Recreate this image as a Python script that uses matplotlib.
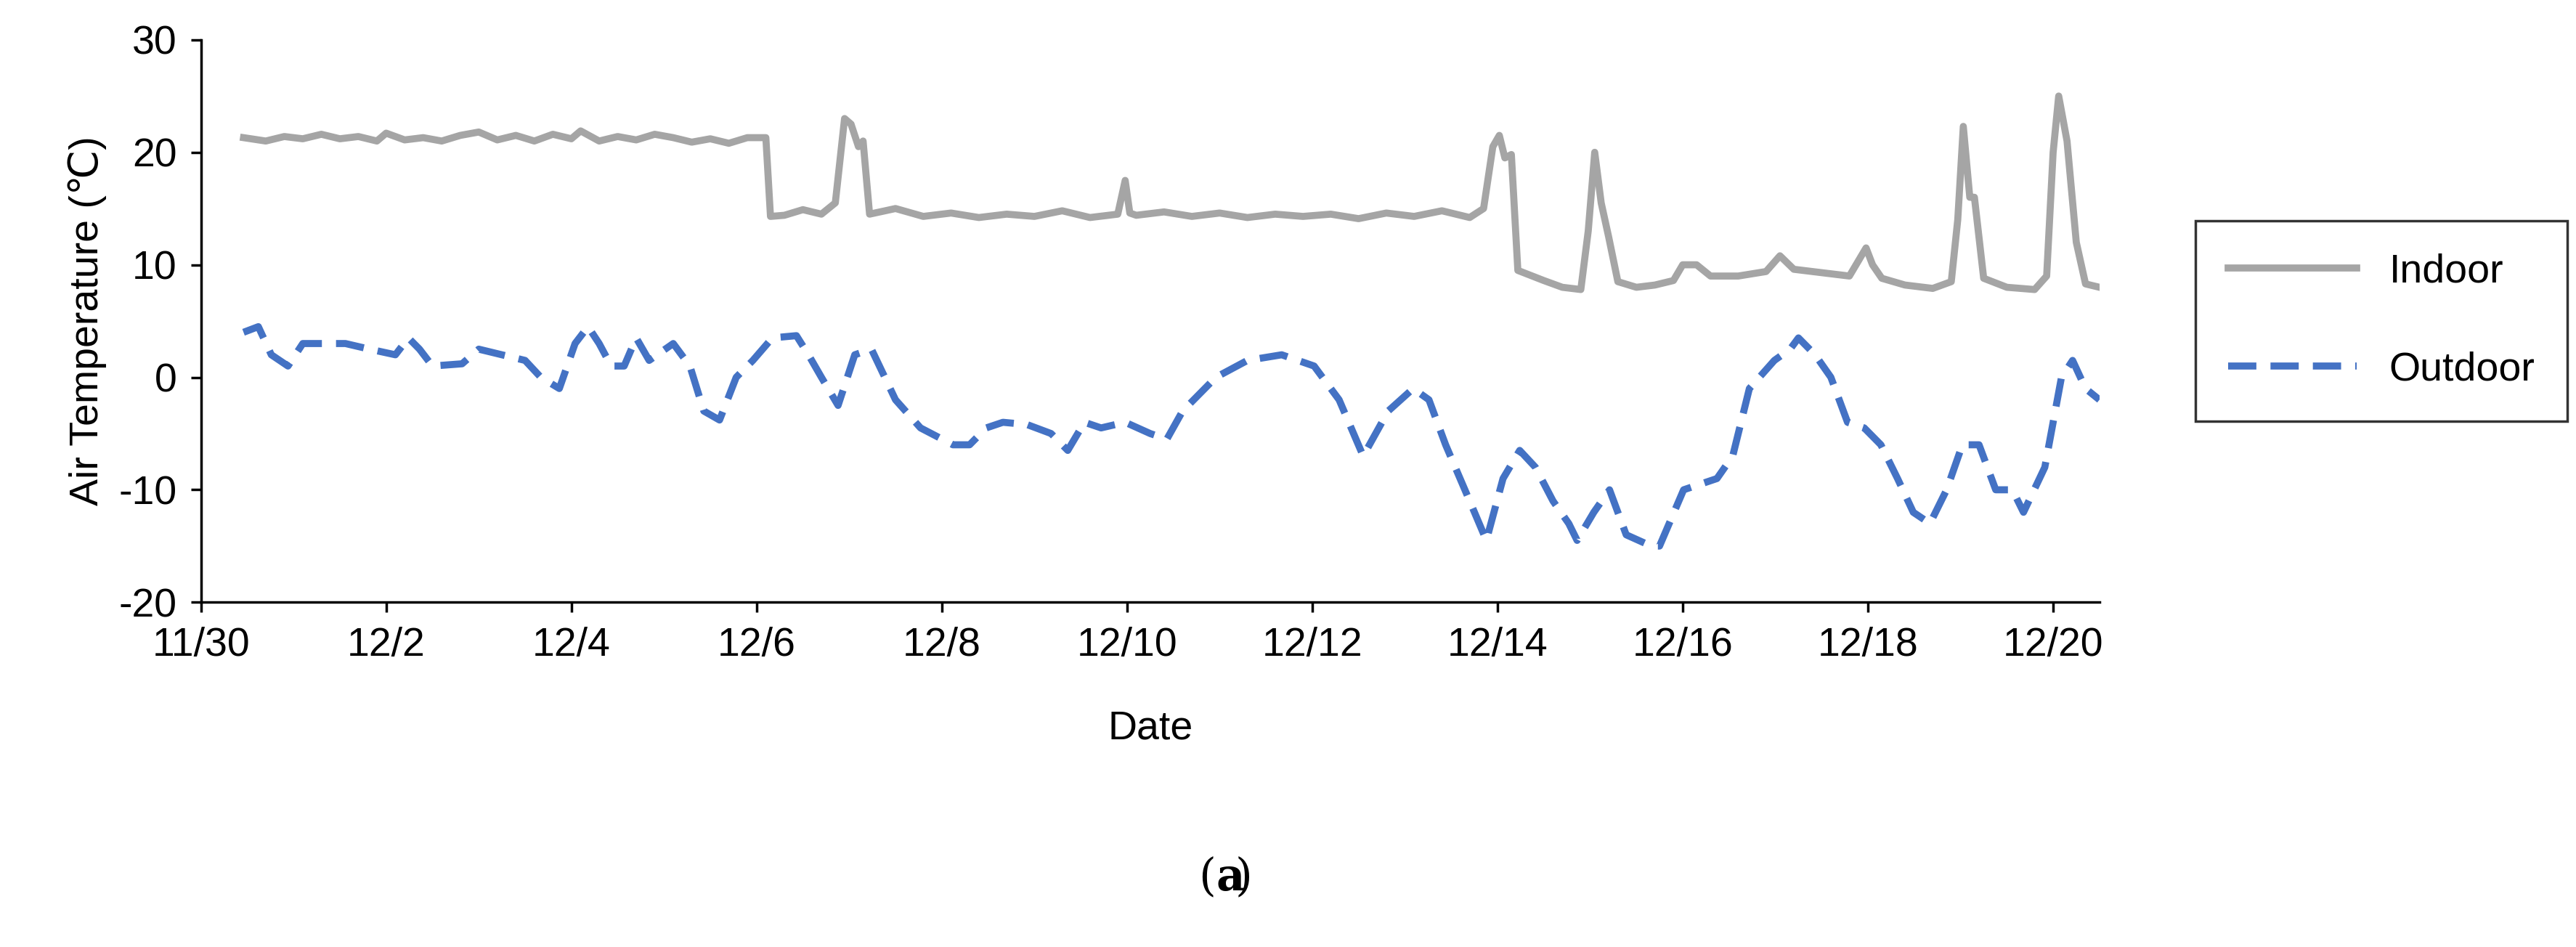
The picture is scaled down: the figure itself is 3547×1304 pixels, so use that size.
import numpy as np
import matplotlib.pyplot as plt

# days since 11/30
indoor_day = [0.46, 0.7, 0.9, 1.1, 1.3, 1.5, 1.7, 1.9, 2.0, 2.2, 2.4, 2.6, 2.8, 3.0, 3.2, 3.4, 3.6, 3.8, 4.0, 4.1, 4.3,
              4.5, 4.7, 4.9, 5.1, 5.3, 5.5, 5.7, 5.9, 6.1, 6.15, 6.3, 6.5, 6.7, 6.85, 6.95, 7.02, 7.1, 7.15, 7.22,
              7.5, 7.8, 8.1, 8.4, 8.7, 9.0, 9.3, 9.6, 9.9, 9.98, 10.03, 10.1, 10.4, 10.7, 11.0, 11.3, 11.6, 11.9,
              12.2, 12.5, 12.8, 13.1, 13.4, 13.7, 13.85, 13.95, 14.02, 14.08, 14.15, 14.22, 14.5, 14.7, 14.9,
              14.98, 15.05, 15.12, 15.2, 15.3, 15.5, 15.7, 15.9, 16.0, 16.15, 16.3, 16.6, 16.9, 17.05, 17.2,
              17.5, 17.8, 17.98, 18.05, 18.15, 18.4, 18.7, 18.9, 18.97, 19.03, 19.1, 19.15, 19.25, 19.5, 19.8,
              19.93, 20.0, 20.06, 20.15, 20.25, 20.35, 20.5]
indoor_temp = [21.3, 21.0, 21.4, 21.2, 21.6, 21.2, 21.4, 21.0, 21.7, 21.1, 21.3, 21.0, 21.5, 21.8, 21.1, 21.5, 21.0, 21.6,
               21.2, 21.9, 21.0, 21.4, 21.1, 21.6, 21.3, 20.9, 21.2, 20.8, 21.3, 21.3, 14.3, 14.4, 14.9, 14.5, 15.5,
               23.0, 22.5, 20.5, 21.0, 14.5, 15.0, 14.3, 14.6, 14.2, 14.5, 14.3, 14.8, 14.2, 14.5, 17.5, 14.6, 14.4,
               14.7, 14.3, 14.6, 14.2, 14.5, 14.3, 14.5, 14.1, 14.6, 14.3, 14.8, 14.2, 15.0, 20.5, 21.5, 19.5, 19.8,
               9.5, 8.6, 8.0, 7.8, 13.0, 20.0, 15.5, 12.5, 8.5, 8.0, 8.2, 8.6, 10.0, 10.0, 9.0, 9.0, 9.4, 10.8, 9.6,
               9.3, 9.0, 11.5, 10.0, 8.8, 8.2, 7.9, 8.5, 14.0, 22.3, 16.0, 16.0, 8.8, 8.0, 7.8, 9.0, 20.0, 25.0,
               21.0, 12.0, 8.3, 8.0]

outdoor_day = [0.46, 0.62, 0.76, 0.94, 1.1, 1.56, 1.82, 2.1, 2.24, 2.36, 2.5, 2.82, 3.0, 3.25, 3.5, 3.67, 3.87,
               4.04, 4.18, 4.3, 4.43, 4.57, 4.7, 4.84, 5.1, 5.28, 5.43, 5.6, 5.78, 5.96, 6.17, 6.43, 6.56, 6.7,
               6.88, 7.06, 7.24, 7.5, 7.77, 8.12, 8.3, 8.48, 8.66, 8.92, 9.18, 9.36, 9.54, 9.72, 9.98, 10.25, 10.43,
               10.6, 10.96, 11.3, 11.67, 12.02, 12.29, 12.55, 12.82, 13.09, 13.26, 13.44, 13.7, 13.88, 14.06, 14.24,
               14.41, 14.6, 14.77, 14.86, 15.04, 15.21, 15.39, 15.66, 15.75, 16.01, 16.19, 16.37, 16.54, 16.72,
               16.99, 17.16, 17.25, 17.43, 17.6, 17.78, 17.96, 18.14, 18.32, 18.49, 18.67, 18.85, 19.02, 19.2,
               19.38, 19.56, 19.68, 19.91, 20.09, 20.21, 20.35, 20.5]
outdoor_temp = [4.0, 4.5, 2.0, 1.0, 3.0, 3.0, 2.5, 2.0, 3.5, 2.5, 1.0, 1.2, 2.5, 2.0, 1.5, 0.0, -1.0, 3.0, 4.5, 3.0,
                1.0, 1.0, 3.5, 1.5, 3.0, 1.0, -3.0, -3.8, 0.0, 1.5, 3.5, 3.7, 2.0, 0.0, -2.5, 2.0, 2.5, -2.0, -4.5,
                -6.0, -6.0, -4.5, -4.0, -4.2, -5.0, -6.5, -4.0, -4.5, -4.0, -5.0, -5.5, -3.0, 0.0, 1.5, 2.0, 1.0,
                -2.0, -7.0, -3.0, -1.0, -2.0, -6.0, -11.0, -14.5, -9.0, -6.5, -8.0, -11.0, -13.0, -14.5, -12.0,
                -10.0, -14.0, -15.0, -15.0, -10.0, -9.5, -9.0, -7.0, -1.0, 1.5, 2.5, 3.5, 2.0, 0.0, -4.0, -4.5,
                -6.0, -9.0, -12.0, -13.0, -10.0, -6.0, -6.0, -10.0, -10.0, -12.0, -8.0, 0.0, 1.5, -1.0, -2.0]

tick_days = list(range(0, 21, 2))
tick_labels = ['11/30'] + ['12/%d' % d for d in range(2, 21, 2)]

plt.rcParams['font.family'] = ['Liberation Sans', 'DejaVu Sans']
plt.rcParams['axes.unicode_minus'] = False
fig = plt.figure(figsize=(35.47, 13.04), dpi=100)
ax = fig.add_axes([0.078, 0.364, 0.737, 0.594])

ax.plot(indoor_day, indoor_temp, color='#a5a5a5', lw=7, label='Indoor')
ax.plot(outdoor_day, outdoor_temp, color='#4472c4', lw=7, ls=(0, (4, 2)), label='Outdoor')

ax.set_xlim(0, 20.5)
ax.set_ylim(-20, 30)
ax.set_xticks(tick_days)
ax.set_xticklabels(tick_labels)
ax.set_yticks(range(-20, 31, 10))
ax.tick_params(labelsize=40, length=10, width=2.5, pad=14)
for s in ['top', 'right']:
    ax.spines[s].set_visible(False)
for s in ['left', 'bottom']:
    ax.spines[s].set_linewidth(2.5)
ax.set_xlabel('Date', fontsize=40, labelpad=45)
ax.set_ylabel('Air Temperature (\u2103)', fontsize=40, labelpad=12)

leg = ax.legend(loc='center left', bbox_to_anchor=(1.04, 0.5), fontsize=40, frameon=True,
                fancybox=False, edgecolor='black', handlelength=3.2, labelspacing=1.5,
                borderpad=0.8, handletextpad=0.8)
leg.get_frame().set_linewidth(2.5)

fig.text(0.472, 0.06, '(', fontsize=44, ha='right', family='DejaVu Serif')
fig.text(0.472, 0.06, 'a', fontsize=44, ha='left', family='DejaVu Serif', weight='bold')
fig.text(0.4795, 0.06, ')', fontsize=44, ha='left', family='DejaVu Serif')
fig.savefig('out.png')
